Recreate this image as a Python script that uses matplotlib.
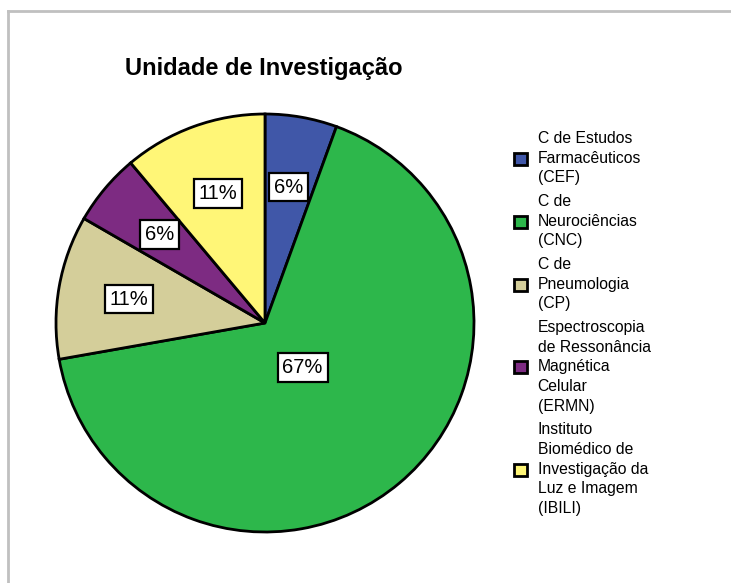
import matplotlib.pyplot as plt
from matplotlib.lines import Line2D

plt.rcParams['font.family'] = ['Liberation Sans', 'DejaVu Sans']

# unidades de investigação (número de registos)
unidades = ['C de Estudos\nFarmacêuticos\n(CEF)',
            'C de\nNeurociências\n(CNC)',
            'C de\nPneumologia\n(CP)',
            'Espectroscopia\nde Ressonância\nMagnética\nCelular\n(ERMN)',
            'Instituto\nBiomédico de\nInvestigação da\nLuz e Imagem\n(IBILI)']
contagens = [1, 12, 2, 1, 2]
cores = ['#4057A8', '#2DB74B', '#D4CE9A', '#7D2B82', '#FFF677']

W, H = 731, 583
fig = plt.figure(figsize=(W / 100, H / 100), dpi=100)

# moldura cinzenta (só esquerda e topo visíveis)
fig.add_artist(Line2D([8 / W, 8 / W], [0, 1 - 11 / H], color='#C0C0C0', lw=2))
fig.add_artist(Line2D([8 / W, 1], [1 - 11 / H, 1 - 11 / H], color='#C0C0C0', lw=2))

cx, cy, r = 265, 323, 209
ax = fig.add_axes([(cx - r) / W, 1 - (cy + r) / H, 2 * r / W, 2 * r / H])

wedges, texts, pcts = ax.pie(contagens, colors=cores, startangle=90, counterclock=False,
                             autopct='%1.0f%%', pctdistance=0.66,
                             wedgeprops=dict(edgecolor='black', linewidth=2),
                             textprops=dict(fontsize=14.5))
ax.set_xlim(-1, 1)
ax.set_ylim(-1, 1)
ax.set_aspect('equal')

for t in pcts:
    t.set_bbox(dict(facecolor='white', edgecolor='black', linewidth=1.6, pad=3.5))
# rótulo da fatia grande mais perto do centro
x, y = pcts[1].get_position()
pcts[1].set_position((x * 0.28 / 0.66, y * 0.28 / 0.66))

fig.text(264 / W, 1 - 68 / H, 'Unidade de Investigação', ha='center', va='center',
         fontsize=17, fontweight='bold')

leg = fig.legend(wedges, unidades, loc='upper left',
                 bbox_to_anchor=(514 / W, 1 - 131 / H), frameon=False,
                 fontsize=11.3, handlelength=0.8, handleheight=0.8,
                 handletextpad=0.7, labelspacing=0.55, borderpad=0, borderaxespad=0)
for t in leg.get_texts():
    t.set_linespacing(1.39)

fig.savefig('out.png', dpi=100)
